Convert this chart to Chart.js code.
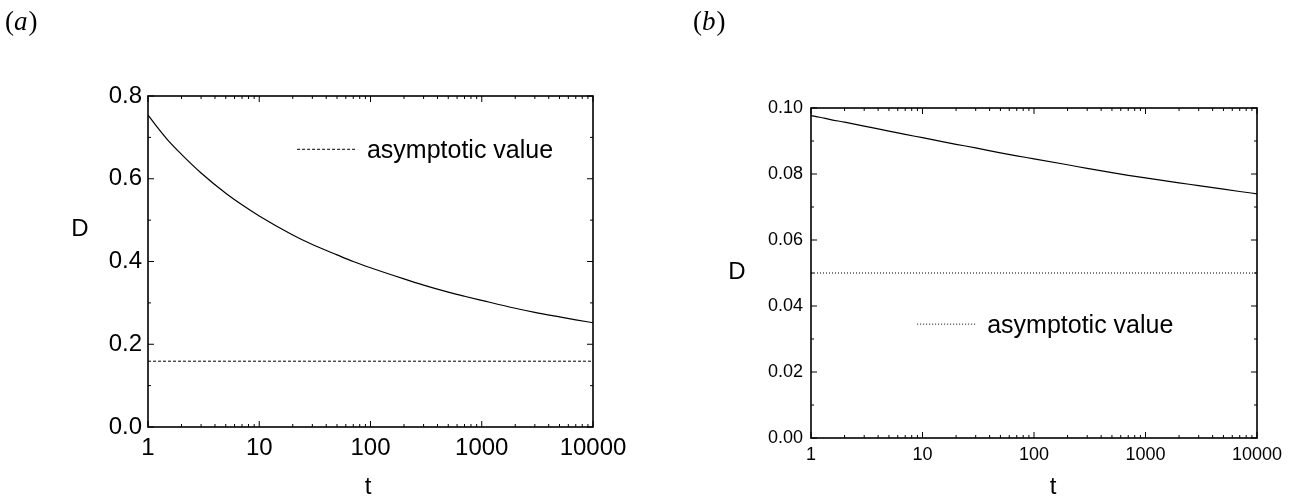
<!DOCTYPE html>
<html>
<head>
<meta charset="utf-8">
<script src="https://cdn.jsdelivr.net/npm/chart.js@4"></script>
<style>
  body { margin: 0; background: #fff; }
  .panel { position: absolute; top: 0; width: 648px; height: 499px; }
</style>
</head>
<body>
<div class="panel" style="left:0"><canvas id="chartA" width="648" height="499"></canvas></div>
<div class="panel" style="left:648px"><canvas id="chartB" width="648" height="499"></canvas></div>
<script>
const tValues = [1, 1.2, 1.5, 2, 3, 5, 7, 10, 20, 30, 50, 70, 100, 200, 300, 500, 700, 1000, 2000, 3000, 5000, 7000, 10000];
const dValuesA = [0.754, 0.726, 0.694, 0.659, 0.614, 0.565, 0.537, 0.510, 0.464, 0.441, 0.416, 0.400, 0.385, 0.358, 0.343, 0.326, 0.316, 0.306, 0.287, 0.277, 0.266, 0.259, 0.252];
const dValuesB = [0.0977, 0.0972, 0.0965, 0.0957, 0.0945, 0.0930, 0.0920, 0.0910, 0.0890, 0.0879, 0.0864, 0.0855, 0.0846, 0.0828, 0.0817, 0.0804, 0.0796, 0.0788, 0.0773, 0.0765, 0.0754, 0.0747, 0.0740];
const asymptoteA = 0.159;
const asymptoteB = 0.05;
const xTickLabels = [1, 10, 100, 1000, 10000];
const xMinorSteps = [2, 3, 4, 5, 6, 7, 8, 9];
const yTicksA = [0, 0.2, 0.4, 0.6, 0.8];
const yTicksB = [0, 0.02, 0.04, 0.06, 0.08, 0.10];
const legendLabel = 'asymptotic value';

const FONT = '"Liberation Sans", Arial, sans-serif';

// box, inward ticks, axis titles, panel letter and legend
const framePlugin = {
  id: 'frame',
  afterDraw(chart, args, o) {
    const { ctx, chartArea: a, scales: { x, y } } = chart;
    const seg = (x1, y1, x2, y2) => { ctx.beginPath(); ctx.moveTo(x1, y1); ctx.lineTo(x2, y2); ctx.stroke(); };
    ctx.save();
    ctx.strokeStyle = '#000';
    ctx.lineWidth = 1;
    xTickLabels.forEach(d => {
      const px = x.getPixelForValue(d);
      seg(px, a.bottom, px, a.bottom - o.major);
      seg(px, a.top, px, a.top + o.major);
      if (d >= 10000) return;
      xMinorSteps.forEach(k => {
        const mx = x.getPixelForValue(d * k);
        seg(mx, a.bottom, mx, a.bottom - o.minor);
        seg(mx, a.top, mx, a.top + o.minor);
      });
    });
    const yt = o.yTicks;
    yt.forEach((v, i) => {
      const py = y.getPixelForValue(v);
      seg(a.left, py, a.left + o.major, py);
      seg(a.right, py, a.right - o.major, py);
      if (i < yt.length - 1) {
        const my = y.getPixelForValue((v + yt[i + 1]) / 2);
        seg(a.left, my, a.left + o.minor, my);
        seg(a.right, my, a.right - o.minor, my);
      }
    });
    ctx.lineWidth = o.frameWidth;
    ctx.strokeRect(a.left, a.top, a.right - a.left, a.bottom - a.top);

    // legend
    const w = a.right - a.left, h = a.bottom - a.top;
    const ly = a.top + o.legend.y * h;
    ctx.lineWidth = 1;
    ctx.setLineDash(o.legend.dash);
    seg(a.left + o.legend.x0 * w, ly, a.left + o.legend.x1 * w, ly);
    ctx.setLineDash([]);
    ctx.fillStyle = '#000';
    ctx.font = '25px ' + FONT;
    ctx.textBaseline = 'middle';
    ctx.textAlign = 'left';
    ctx.fillText(legendLabel, a.left + o.legend.tx * w, ly + 2);

    // axis titles
    ctx.font = '24px ' + FONT;
    ctx.textAlign = 'center';
    ctx.fillText('D', o.dPos[0], o.dPos[1]);
    ctx.fillText('t', o.tPos[0], o.tPos[1]);

    // panel letter
    ctx.textAlign = 'left';
    ctx.textBaseline = 'alphabetic';
    let px = o.letterPos[0];
    const by = o.letterPos[1];
    ctx.font = '27px "Liberation Serif", "DejaVu Serif", serif';
    ctx.fillText('(', px, by); px += ctx.measureText('(').width;
    ctx.font = 'italic 27px "Liberation Serif", "DejaVu Serif", serif';
    ctx.fillText(o.letter, px, by); px += ctx.measureText(o.letter).width + 1;
    ctx.font = '27px "Liberation Serif", "DejaVu Serif", serif';
    ctx.fillText(')', px, by);
    ctx.restore();
  }
};

function makeChart(id, values, asym, yTicks, p) {
  const curve = tValues.map((t, i) => ({ x: t, y: values[i] }));
  const asymLine = [{ x: tValues[0], y: asym }, { x: tValues[tValues.length - 1], y: asym }];
  return new Chart(document.getElementById(id), {
    type: 'line',
    data: {
      datasets: [
        { data: curve, borderColor: '#000', borderWidth: 1.2, pointRadius: 0, fill: false, cubicInterpolationMode: 'monotone' },
        { data: asymLine, borderColor: '#000', borderWidth: 1, pointRadius: 0, fill: false, borderDash: p.dash }
      ]
    },
    options: {
      responsive: false,
      animation: false,
      devicePixelRatio: 1,
      layout: { padding: { top: p.top, right: p.right, left: 0, bottom: 0 } },
      plugins: {
        legend: { display: false },
        tooltip: { enabled: false },
        frame: {
          major: 6, minor: 3, frameWidth: 1.6, yTicks,
          legend: { x0: p.lx0, x1: p.lx1, tx: p.ltx, y: p.ly, dash: p.dash },
          dPos: p.dPos, tPos: p.tPos, letterPos: p.letterPos, letter: p.letter
        }
      },
      scales: {
        x: {
          type: 'logarithmic',
          min: 1, max: 10000,
          grid: { display: false, drawTicks: false },
          border: { display: false },
          afterBuildTicks: s => { s.ticks = xTickLabels.map(v => ({ value: v })); },
          afterFit: s => { s.height = p.xHeight; },
          ticks: {
            color: '#000', padding: p.xPad, maxRotation: 0, autoSkip: false,
            font: { family: FONT, size: p.tickSize },
            callback: v => String(v)
          }
        },
        y: {
          min: yTicks[0], max: yTicks[yTicks.length - 1],
          grid: { display: false, drawTicks: false },
          border: { display: false },
          afterBuildTicks: s => { s.ticks = yTicks.map(v => ({ value: v })); },
          afterFit: s => { s.width = p.yWidth; },
          ticks: {
            color: '#000', padding: p.yPad,
            font: { family: FONT, size: p.tickSize },
            callback: v => v.toFixed(p.decimals)
          }
        }
      }
    },
    plugins: [framePlugin]
  });
}

makeChart('chartA', dValuesA, asymptoteA, yTicksA, {
  top: 96, right: 55, yWidth: 148, xHeight: 72, tickSize: 24, xPad: 7, yPad: 6, decimals: 1,
  dash: [3, 2], lx0: 0.335, lx1: 0.47, ltx: 0.492, ly: 0.161,
  dPos: [80, 229], tPos: [368, 487], letterPos: [5, 30], letter: 'a'
});

makeChart('chartB', dValuesB, asymptoteB, yTicksB, {
  top: 108, right: 39, yWidth: 163, xHeight: 61, tickSize: 18, xPad: 6, yPad: 8, decimals: 2,
  dash: [1, 2], lx0: 0.238, lx1: 0.372, ltx: 0.395, ly: 0.655,
  dPos: [89, 272], tPos: [405, 487], letterPos: [45, 30], letter: 'b'
});
</script>
</body>
</html>
